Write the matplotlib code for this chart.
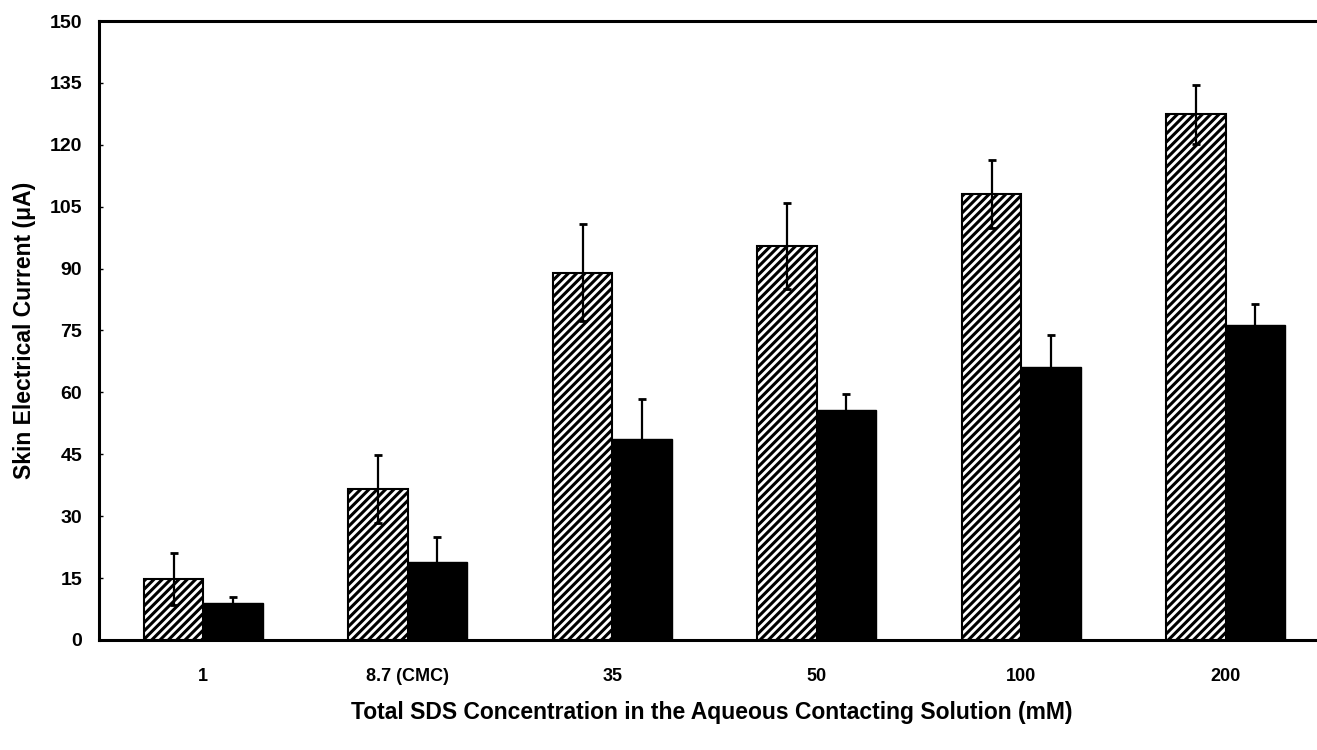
import numpy as np
import matplotlib
matplotlib.use('Agg')
import matplotlib.pyplot as plt

# Data
concentrations = ['1', '8.7 (CMC)', '35', '50', '100', '200']
hatched_vals = [14.8, 36.6, 89.0, 95.5, 108.1, 127.4]
hatched_err = [6.3, 8.2, 11.8, 10.5, 8.2, 7.2]
solid_vals = [9.0, 18.9, 48.6, 55.7, 66.2, 76.3]
solid_err = [1.4, 6.0, 9.8, 3.9, 7.7, 5.0]

plt.rcParams['hatch.linewidth'] = 2.2
font = 'Liberation Sans'

fig = plt.figure(figsize=(13.17, 7.5), dpi=100)
ax = fig.add_axes([0.0752, 0.1467, 0.93, 0.8253])

x = np.arange(len(concentrations))
w = 0.29
ax.bar(x - w / 2, hatched_vals, w, color='white', edgecolor='black',
       hatch='////', linewidth=1.5, zorder=2)
ax.bar(x + w / 2, solid_vals, w, color='black', edgecolor='black',
       linewidth=1.0, zorder=2)
ax.errorbar(x - w / 2, hatched_vals, yerr=hatched_err, fmt='none',
            ecolor='black', elinewidth=1.6, capsize=3, capthick=2, zorder=3)
ax.errorbar(x + w / 2, solid_vals, yerr=solid_err, fmt='none',
            ecolor='black', elinewidth=1.6, capsize=3, capthick=2, zorder=1.5)

ax.set_xlim(-0.51, 5.48)
ax.set_ylim(0, 150)
ax.set_yticks(np.arange(0, 151, 15))
ax.set_xticks(x)
ax.set_xticklabels(concentrations, family=font, fontweight='bold', fontsize=13)
for lab in ax.get_yticklabels():
    lab.set_family(font)
    lab.set_fontweight('bold')
    lab.set_fontsize(14)

ax.tick_params(axis='both', direction='in', length=3, width=1)
ax.tick_params(axis='x', pad=20)
ax.tick_params(axis='y', pad=12)

ax.spines['right'].set_visible(False)
for s in ['left', 'bottom', 'top']:
    ax.spines[s].set_linewidth(2.2)

ax.set_xlabel('Total SDS Concentration in the Aqueous Contacting Solution (mM)',
              family=font, fontweight='bold', fontsize=16.5, labelpad=12)
ax.set_ylabel('Skin Electrical Current (\u03bcA)', family=font,
              fontweight='bold', fontsize=16.5, labelpad=10)

fig.savefig('out.png', dpi=100)
